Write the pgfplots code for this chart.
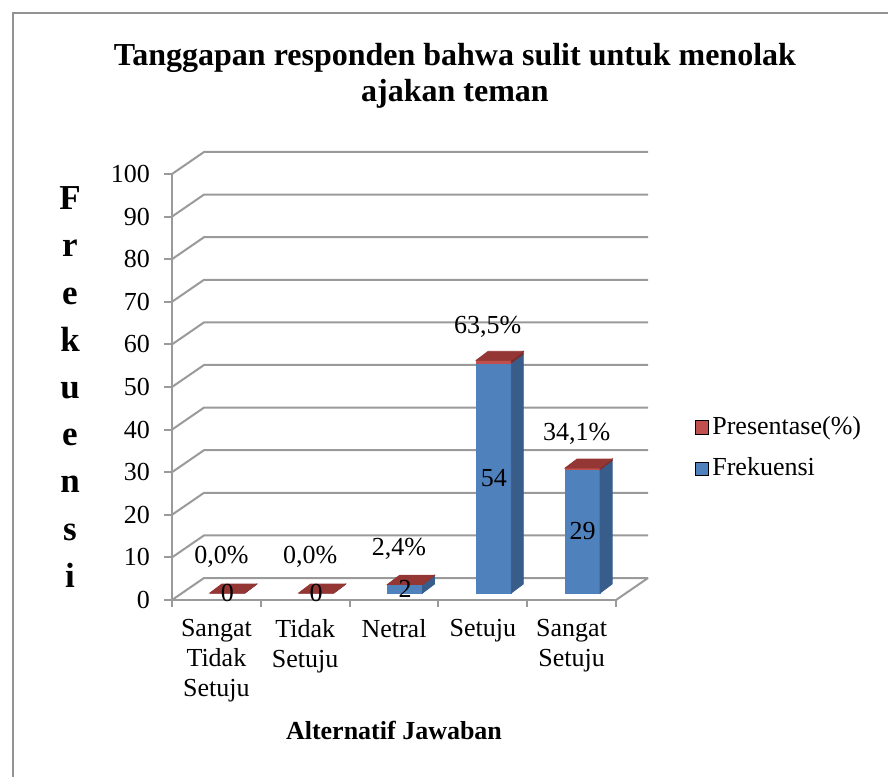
\documentclass[border=0pt]{standalone}
\usepackage{fontspec}
\setmainfont{Liberation Serif}
\usepackage{pgfplots}
\usepackage{pgfplotstable}
\pgfplotsset{compat=1.18}

\definecolor{frekfront}{HTML}{4F81BD}
\definecolor{frekside}{HTML}{385D8A}
\definecolor{presfront}{HTML}{C0504D}
\definecolor{prestop}{HTML}{943634}
\definecolor{presside}{HTML}{7B2D2B}
\definecolor{wallgray}{HTML}{9A9A9A}

% x = category, frek = Frekuensi, pres = Presentase (%)
\pgfplotstableread{
x frek pres
0 0  0.0
1 0  0.0
2 2  2.4
3 54 63.5
4 29 34.1
}\jawaban

\newcommand\fsz{\fontsize{13}{15}\selectfont}
% 3d bar geometry in pt: width, front offset, depth, y unit
\def\bw{17.5}\def\ox{5.5}\def\oy{3.5}\def\dx{6}\def\dy{4.5}\def\yu{2.13}
\pgfmathsetmacro\xl{\ox-\bw/2}
\pgfmathsetmacro\xr{\ox+\bw/2}

\begin{document}
\begin{tikzpicture}
\path[use as bounding box] (-86pt,-88pt) rectangle (358pt,300pt);
\draw[gray!85, line width=1pt] (-79.5pt,-90pt) -- (-79.5pt,293.5pt) -- (360pt,293.5pt);
\begin{axis}[
  at={(0,0)}, anchor=south west,
  x=44.4pt, y=\yu pt,
  xmin=-0.5, xmax=4.5, ymin=0, ymax=100,
  axis line style={draw=none},
  clip=false,
  xtick={0,...,4},
  xticklabels={Sangat\\Tidak\\Setuju, Tidak\\Setuju, Netral, Setuju, Sangat\\Setuju},
  minor xtick={-0.5,0.5,...,4.5},
  ytick={0,10,...,100},
  xtick pos=bottom, ytick pos=left,
  tick align=outside,
  major tick length=4pt, minor tick length=3.5pt,
  major x tick style={draw=none},
  minor x tick style={wallgray, line width=1pt},
  y tick style={wallgray, line width=1pt},
  tick label style={font=\fsz},
  xticklabel style={align=center, yshift=-2pt},
  yticklabel style={xshift=-3.5pt},
  /pgf/number format/assume math mode=true,
  title={Tanggapan responden bahwa sulit untuk menolak\\ajakan teman},
  title style={font=\bfseries\fontsize{16}{18}\selectfont, align=center, at={(axis description cs:0.5,1)}, anchor=center, xshift=30.5pt, yshift=43pt},
  ylabel={F\\r\\e\\k\\u\\e\\n\\s\\i},
  ylabel style={rotate=-90, align=center, font=\bfseries\fontsize{17.5}{23.6}\selectfont, at={(axis description cs:0,0.5)}, anchor=center, xshift=-51pt},
  xlabel={Alternatif Jawaban},
  xlabel style={font=\bfseries\fontsize{13}{15}\selectfont, at={(axis description cs:0.5,0)}, anchor=center, yshift=-65pt},
  legend cell align=left,
  legend style={at={(axis description cs:1.176,0.357)}, anchor=west, draw=none, fill=none,
    inner sep=0pt, font=\fsz, row sep=6pt, /tikz/every even column/.style={column sep=0pt}},
  legend image code/.code={\fill[#1] (0pt,-3.25pt) rectangle (6.5pt,3.25pt);},
]
% walls: left side and back gridlines
\pgfplotsinvokeforeach{0,10,...,100}{
  \draw[wallgray, line width=1pt] (axis cs:-0.5,#1) -- ([shift={(16pt,11pt)}]axis cs:-0.5,#1)
    -- ([shift={(16pt,11pt)}]axis cs:4.5,#1);
}
\draw[wallgray, line width=1pt] (axis cs:4.5,0) -- ([shift={(16pt,11pt)}]axis cs:4.5,0);
\draw[wallgray, line width=1.3pt] (axis cs:-0.5,100) -- (axis cs:-0.5,0) -- (axis cs:4.5,0);

% Frekuensi columns
\addplot[forget plot, scatter, only marks, mark=*, mark size=0pt,
  mark options={draw=none, fill=none},
  visualization depends on={\thisrow{frek} \as \fr},
  scatter/@pre marker code/.code={%
    \pgfmathsetmacro\barh{\fr*\yu}%
    \pgfmathsetmacro\yb{\oy-\barh}%
    \fill[frekfront] (\xl pt,\yb pt) rectangle (\xr pt,\oy pt);
    \fill[frekside] (\xr pt,\yb pt) -- ++(\dx pt,\dy pt) -- ++(0pt,\barh pt) -- (\xr pt,\oy pt) -- cycle;
  },
  scatter/@post marker code/.code={}]
  table[x=x, y=frek] {\jawaban};

% Presentase caps
\addplot[forget plot, scatter, only marks, mark=*, mark size=0pt,
  mark options={draw=none, fill=none},
  visualization depends on={\thisrow{pres} \as \pr},
  scatter/@pre marker code/.code={%
    \pgfmathsetmacro\ptop{\oy+\pr/100*\yu}%
    \pgfmathsetmacro\capd{\pr/100*\yu}%
    \fill[presfront] (\xl pt,\oy pt) rectangle (\xr pt,\ptop pt);
    \fill[presside] (\xr pt,\oy pt) -- ++(\dx pt,\dy pt) -- ++(0pt,\capd pt) -- (\xr pt,\ptop pt) -- cycle;
    \fill[prestop] (\xl pt,\ptop pt) -- ++(\dx pt,\dy pt) -- ++(\bw pt,0pt) -- (\xr pt,\ptop pt) -- cycle;
  },
  scatter/@post marker code/.code={}]
  table[x=x, y=frek] {\jawaban};

% value labels
\addplot[forget plot, draw=none, mark=none,
  point meta=\thisrow{frek},
  visualization depends on={\thisrow{frek} \as \fr},
  nodes near coords,
  nodes near coords style={font=\fsz, anchor=center, xshift=5.5pt, yshift=3.5pt-\fr*1.065pt}]
  table[x=x, y=frek] {\jawaban};
\addplot[forget plot, draw=none, mark=none,
  point meta=\thisrow{pres},
  nodes near coords={\pgfmathprintnumber[fixed, fixed zerofill, precision=1, use comma]{\pgfplotspointmeta}\%},
  nodes near coords style={font=\fsz, anchor=center, xshift=2.5pt, yshift=21.5pt}]
  table[x=x, y=frek] {\jawaban};

\addlegendimage{fill=presfront}
\addlegendentry{Presentase(\%)}
\addlegendimage{fill=frekfront}
\addlegendentry{Frekuensi}
\end{axis}
\end{tikzpicture}
\end{document}
